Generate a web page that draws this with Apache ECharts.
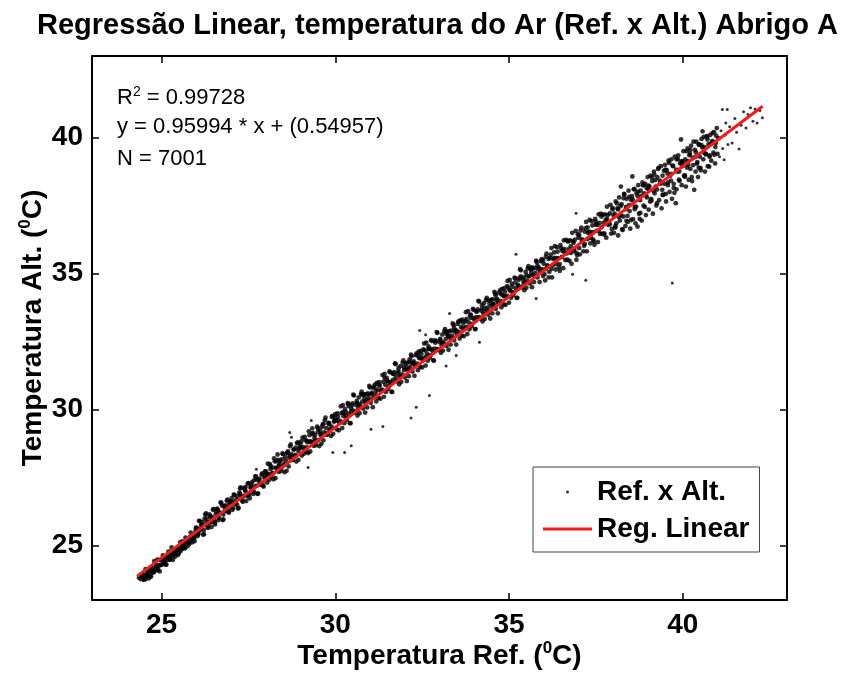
<!DOCTYPE html>
<html><head><meta charset="utf-8">
<script src="https://cdn.jsdelivr.net/npm/echarts@6/dist/echarts.min.js"></script>
<style>html,body{margin:0;padding:0;background:#fff}#c{width:844px;height:679px}</style>
</head><body><div id="c"></div>
<script>
const tituloGrafico = 'Regressão Linear, temperatura do Ar (Ref. x Alt.) Abrigo A';
const nomeSerieDados = 'Ref. x Alt.';
const nomeSerieReg = 'Reg. Linear';
const ticksX = [25, 30, 35, 40];
const ticksY = [25, 30, 35, 40];
const textoR2 = '0.99728';
const textoEq = 'y = 0.95994 * x + (0.54957)';
const textoN = 'N = 7001';

const pontos24a26 = [[24.35,23.82],[24.40,23.77],[24.42,23.94],[24.46,23.85],[24.48,23.75],[24.50,23.92],[24.55,23.77],[24.58,23.98],[24.60,24.11],[24.63,23.94],[24.67,23.88],[24.70,23.86],[24.72,24.18],[24.75,24.02],[24.78,24.04],[24.82,24.12],[24.85,24.20],[24.88,24.48],[24.90,24.15],[24.95,24.05],[25.00,24.30],[25.03,24.45],[25.07,24.38],[25.10,24.55],[25.12,24.30],[25.18,24.48],[25.20,24.78],[25.22,24.62],[25.25,24.50],[25.30,24.66],[25.33,24.48],[25.38,24.72],[25.40,24.60],[25.45,24.82],[25.48,24.66],[25.52,24.95],[25.55,24.80],[25.60,24.88],[25.60,25.15],[25.63,25.05],[25.68,24.90],[25.72,25.12],[25.75,24.98],[25.80,25.06],[25.83,25.25],[25.88,25.12],[25.92,25.30],[25.95,25.16],[25.98,25.40]];
const pontos24a26B = [[24.44,23.91],[24.49,23.74],[24.54,24.13],[24.59,23.94],[24.64,23.80],[24.69,24.20],[24.74,24.02],[24.79,24.43],[24.84,24.25],[24.89,24.09],[24.94,24.47],[24.99,24.29],[25.04,24.64],[25.09,24.46],[25.14,24.30],[25.19,24.65],[25.24,24.48],[25.29,24.93],[25.34,24.76],[25.39,24.70],[25.44,24.92],[25.49,24.72],[25.54,25.12],[25.59,24.97],[25.64,24.91],[25.69,25.29],[25.74,25.16],[25.79,25.11],[25.84,25.48],[25.89,25.35],[25.94,25.27],[25.99,25.65]];

const pontos26a28 = [[26.00,25.66],[26.04,25.35],[26.08,25.91],[26.12,25.57],[26.16,25.74],[26.20,25.40],[26.24,25.99],[26.28,26.18],[26.32,25.70],[26.36,25.87],[26.40,26.09],[26.44,25.68],[26.48,26.32],[26.52,25.93],[26.56,26.17],[26.60,26.36],[26.64,25.94],[26.68,26.21],[26.72,26.58],[26.76,25.94],[26.80,26.46],[26.84,26.29],[26.88,26.65],[26.92,26.24],[26.96,26.53],[27.00,26.62],[27.04,26.31],[27.08,26.87],[27.12,26.53],[27.16,26.70],[27.20,26.36],[27.24,26.95],[27.28,27.14],[27.32,26.66],[27.36,26.83],[27.40,27.05],[27.44,26.64],[27.48,27.28],[27.52,26.89],[27.56,27.13],[27.60,27.32],[27.64,26.90],[27.68,27.17],[27.72,27.54],[27.76,26.90],[27.80,27.42],[27.84,27.25],[27.88,27.61],[27.92,27.20],[27.96,27.49]];
const pontos26a28B = [[26.02,25.63],[26.06,25.42],[26.10,25.90],[26.14,25.62],[26.18,25.86],[26.22,25.42],[26.26,26.14],[26.30,25.85],[26.34,25.65],[26.38,26.15],[26.42,26.03],[26.46,25.87],[26.50,26.34],[26.54,25.78],[26.58,26.27],[26.62,26.12],[26.66,26.02],[26.70,26.58],[26.74,26.47],[26.78,25.96],[26.82,26.38],[26.86,26.28],[26.90,26.69],[26.94,26.21],[26.98,26.60],[27.02,26.59],[27.06,26.38],[27.10,26.86],[27.14,26.58],[27.18,26.82],[27.22,26.38],[27.26,27.10],[27.30,26.81],[27.34,26.61],[27.38,27.11],[27.42,26.99],[27.46,26.83],[27.50,27.30],[27.54,26.74],[27.58,27.23],[27.62,27.08],[27.66,26.98],[27.70,27.54],[27.74,27.43],[27.78,26.92],[27.82,27.34],[27.86,27.24],[27.90,27.65],[27.94,27.17],[27.98,27.56]];

const pontos28a30 = [[28.00,27.73],[28.04,27.32],[28.08,27.63],[28.12,27.99],[28.16,27.53],[28.20,27.87],[28.24,28.21],[28.28,27.48],[28.32,27.82],[28.36,28.15],[28.40,27.99],[28.44,27.75],[28.48,28.39],[28.52,27.95],[28.56,28.25],[28.60,27.75],[28.64,28.46],[28.68,28.23],[28.72,28.72],[28.76,28.14],[28.80,28.53],[28.84,28.30],[28.88,28.09],[28.92,28.79],[28.96,28.57],[29.00,28.74],[29.04,28.31],[29.08,28.62],[29.12,29.00],[29.16,28.46],[29.20,28.80],[29.24,29.20],[29.28,28.46],[29.32,28.80],[29.36,29.13],[29.40,28.97],[29.44,28.69],[29.48,29.37],[29.52,28.89],[29.56,29.23],[29.60,28.74],[29.64,29.45],[29.68,29.16],[29.72,29.70],[29.76,29.07],[29.80,29.51],[29.84,29.24],[29.88,29.03],[29.92,29.77],[29.96,29.56]];
const pontos28a30B = [[28.02,27.65],[28.06,28.01],[28.10,27.42],[28.14,27.91],[28.18,27.65],[28.22,27.44],[28.26,28.10],[28.30,27.87],[28.34,28.35],[28.38,27.71],[28.42,28.11],[28.46,27.87],[28.50,28.36],[28.54,27.70],[28.58,28.11],[28.62,28.40],[28.66,27.91],[28.70,28.65],[28.74,28.36],[28.78,28.16],[28.82,28.54],[28.86,28.33],[28.90,28.77],[28.94,28.15],[28.98,28.62],[29.02,28.61],[29.06,28.97],[29.10,28.38],[29.14,28.87],[29.18,28.61],[29.22,28.40],[29.26,29.06],[29.30,28.83],[29.34,29.31],[29.38,28.67],[29.42,29.07],[29.46,28.83],[29.50,29.32],[29.54,28.66],[29.58,29.07],[29.62,29.36],[29.66,28.87],[29.70,29.61],[29.74,29.32],[29.78,29.12],[29.82,29.50],[29.86,29.29],[29.90,29.73],[29.94,29.11],[29.98,29.58]];

const pontos30a33 = [[30.00,29.83],[30.04,29.27],[30.08,29.74],[30.12,29.51],[30.16,30.12],[30.20,29.32],[30.24,29.76],[30.28,30.02],[30.32,29.61],[30.36,30.24],[30.40,29.85],[30.44,29.50],[30.48,30.16],[30.52,30.55],[30.56,29.91],[30.60,30.17],[30.64,29.78],[30.68,30.45],[30.72,30.14],[30.76,30.66],[30.80,30.04],[30.84,30.43],[30.88,30.57],[30.92,30.08],[30.96,30.42],[31.00,30.81],[31.04,30.57],[31.08,30.09],[31.12,30.84],[31.16,30.54],[31.20,30.98],[31.24,30.42],[31.28,30.89],[31.32,30.67],[31.36,31.27],[31.40,30.47],[31.44,30.91],[31.48,31.17],[31.52,30.76],[31.56,31.40],[31.60,31.00],[31.64,30.65],[31.68,31.31],[31.72,31.70],[31.76,31.06],[31.80,31.33],[31.84,30.93],[31.88,31.60],[31.92,31.29],[31.96,31.81],[32.00,31.19],[32.04,31.59],[32.08,31.73],[32.12,31.23],[32.16,31.57],[32.20,31.96],[32.24,31.72],[32.28,31.24],[32.32,32.00],[32.36,31.69],[32.40,32.13],[32.44,31.57],[32.48,32.04],[32.52,31.82],[32.56,32.43],[32.60,31.62],[32.64,32.06],[32.68,32.32],[32.72,31.91],[32.76,32.55],[32.80,32.16],[32.84,31.80],[32.88,32.46],[32.92,32.85],[32.96,32.21]];
const pontos30a33B = [[30.02,29.59],[30.06,29.86],[30.10,29.24],[30.14,29.58],[30.18,29.87],[30.22,30.16],[30.26,29.50],[30.30,29.92],[30.34,29.69],[30.38,30.21],[30.42,29.50],[30.46,29.94],[30.50,30.23],[30.54,30.52],[30.58,29.89],[30.62,30.24],[30.66,30.06],[30.70,29.87],[30.74,30.58],[30.78,30.30],[30.82,30.56],[30.86,29.89],[30.90,30.33],[30.94,30.60],[30.98,30.87],[31.02,30.25],[31.06,30.62],[31.10,30.45],[31.14,30.92],[31.18,30.30],[31.22,30.74],[31.26,31.01],[31.30,30.40],[31.34,30.73],[31.38,31.02],[31.42,31.31],[31.46,30.65],[31.50,31.07],[31.54,30.85],[31.58,31.37],[31.62,30.65],[31.66,31.09],[31.70,31.38],[31.74,31.67],[31.78,31.04],[31.82,31.40],[31.86,31.21],[31.90,31.02],[31.94,31.73],[31.98,31.45],[32.02,31.71],[32.06,31.05],[32.10,31.48],[32.14,31.75],[32.18,32.02],[32.22,31.40],[32.26,31.77],[32.30,31.61],[32.34,32.07],[32.38,31.45],[32.42,31.89],[32.46,32.16],[32.50,31.55],[32.54,31.89],[32.58,32.18],[32.62,32.46],[32.66,31.80],[32.70,32.22],[32.74,32.00],[32.78,32.52],[32.82,31.81],[32.86,32.24],[32.90,32.53],[32.94,32.82],[32.98,32.19]];

const pontos33a36 = [[33.00,32.48],[33.04,32.09],[33.08,32.76],[33.12,32.44],[33.16,32.96],[33.20,32.34],[33.24,32.74],[33.28,32.88],[33.32,32.39],[33.36,32.72],[33.40,33.11],[33.44,32.87],[33.48,32.39],[33.52,33.15],[33.56,32.85],[33.60,33.28],[33.64,32.72],[33.68,33.19],[33.72,32.97],[33.76,33.58],[33.80,32.78],[33.84,33.21],[33.88,33.47],[33.92,33.06],[33.96,33.70],[34.00,33.31],[34.04,32.96],[34.08,33.61],[34.12,34.00],[34.16,33.36],[34.20,33.63],[34.24,33.24],[34.28,33.91],[34.32,33.60],[34.36,34.11],[34.40,33.49],[34.44,33.89],[34.48,34.03],[34.52,33.54],[34.56,33.88],[34.60,34.26],[34.64,34.02],[34.68,33.54],[34.72,34.30],[34.76,34.00],[34.80,34.44],[34.84,33.87],[34.88,34.34],[34.92,34.12],[34.96,34.73],[35.00,33.93],[35.04,34.37],[35.08,34.63],[35.12,34.21],[35.16,34.85],[35.20,34.46],[35.24,34.11],[35.28,34.77],[35.32,35.16],[35.36,34.51],[35.40,34.78],[35.44,34.39],[35.48,35.06],[35.52,34.75],[35.56,35.27],[35.60,34.64],[35.64,35.04],[35.68,35.18],[35.72,34.69],[35.76,35.03],[35.80,35.42],[35.84,35.17],[35.88,34.69],[35.92,35.45],[35.96,35.15]];
const pontos33a36B = [[33.02,32.55],[33.06,32.37],[33.10,32.17],[33.14,32.88],[33.18,32.60],[33.22,32.86],[33.26,32.20],[33.30,32.64],[33.34,32.90],[33.38,33.17],[33.42,32.55],[33.46,32.92],[33.50,32.76],[33.54,33.23],[33.58,32.61],[33.62,33.04],[33.66,33.31],[33.70,32.70],[33.74,33.04],[33.78,33.33],[33.82,33.62],[33.86,32.95],[33.90,33.37],[33.94,33.15],[33.98,33.67],[34.02,32.96],[34.06,33.40],[34.10,33.68],[34.14,33.97],[34.18,33.34],[34.22,33.70],[34.26,33.52],[34.30,33.33],[34.34,34.03],[34.38,33.75],[34.42,34.01],[34.46,33.35],[34.50,33.79],[34.54,34.06],[34.58,34.33],[34.62,33.70],[34.66,34.07],[34.70,33.91],[34.74,34.38],[34.78,33.76],[34.82,34.20],[34.86,34.46],[34.90,33.85],[34.94,34.19],[34.98,34.48],[35.02,34.77],[35.06,34.11],[35.10,34.52],[35.14,34.30],[35.18,34.82],[35.22,34.11],[35.26,34.55],[35.30,34.84],[35.34,35.12],[35.38,34.49],[35.42,34.85],[35.46,34.67],[35.50,34.48],[35.54,35.19],[35.58,34.91],[35.62,35.16],[35.66,34.50],[35.70,34.94],[35.74,35.21],[35.78,35.48],[35.82,34.86],[35.86,35.22],[35.90,35.06],[35.94,35.53],[35.98,34.91]];

const pontos36a38 = [[36.00,35.36],[36.04,34.75],[36.08,35.73],[36.12,35.27],[36.16,35.06],[36.20,35.70],[36.24,34.86],[36.28,35.53],[36.32,36.01],[36.36,35.35],[36.40,35.81],[36.44,35.23],[36.48,36.05],[36.52,35.61],[36.56,35.20],[36.60,35.90],[36.64,36.24],[36.68,35.51],[36.72,35.90],[36.76,36.22],[36.80,35.36],[36.84,36.19],[36.88,35.90],[36.92,36.57],[36.96,35.68],[37.00,36.32],[37.04,35.71],[37.08,36.69],[37.12,36.23],[37.16,36.02],[37.20,36.66],[37.24,35.82],[37.28,36.49],[37.32,36.97],[37.36,36.31],[37.40,36.77],[37.44,36.19],[37.48,37.01],[37.52,36.57],[37.56,36.16],[37.60,36.86],[37.64,37.20],[37.68,36.47],[37.72,36.86],[37.76,37.18],[37.80,36.32],[37.84,37.15],[37.88,36.86],[37.92,37.53],[37.96,36.64]];
const pontos36a38B = [[36.02,34.98],[36.06,35.62],[36.10,35.30],[36.14,34.86],[36.18,35.58],[36.22,35.94],[36.26,35.31],[36.30,35.58],[36.34,35.15],[36.38,35.97],[36.42,35.56],[36.46,35.10],[36.50,35.94],[36.54,35.83],[36.58,36.22],[36.62,35.50],[36.66,35.74],[36.70,36.20],[36.74,35.47],[36.78,36.01],[36.82,36.50],[36.86,35.83],[36.90,36.25],[36.94,35.51],[36.98,36.45],[37.02,35.94],[37.06,36.58],[37.10,36.26],[37.14,35.82],[37.18,36.54],[37.22,36.90],[37.26,36.27],[37.30,36.54],[37.34,36.11],[37.38,36.93],[37.42,36.52],[37.46,36.06],[37.50,36.90],[37.54,36.79],[37.58,37.18],[37.62,36.46],[37.66,36.70],[37.70,37.16],[37.74,36.43],[37.78,36.97],[37.82,37.46],[37.86,36.79],[37.90,37.21],[37.94,36.47],[37.98,37.41]];

const pontos38a41 = [[38.02,36.50],[38.04,37.20],[38.07,37.65],[38.09,36.85],[38.12,37.40],[38.14,36.40],[38.17,37.80],[38.19,36.95],[38.22,38.20],[38.24,37.55],[38.27,36.60],[38.29,37.10],[38.32,37.90],[38.35,36.75],[38.37,37.45],[38.39,37.75],[38.42,36.90],[38.44,38.05],[38.47,37.30],[38.49,36.65],[38.52,37.70],[38.55,38.57],[38.57,37.00],[38.59,38.10],[38.62,37.45],[38.64,36.85],[38.67,37.95],[38.70,36.73],[38.72,38.25],[38.74,37.20],[38.77,37.70],[38.79,38.05],[38.82,36.95],[38.84,38.35],[38.87,37.50],[38.89,37.95],[38.92,38.30],[38.94,37.15],[38.97,37.80],[38.99,38.55],[39.02,37.35],[39.04,38.20],[39.07,38.60],[39.09,37.75],[39.12,38.40],[39.14,37.20],[39.17,38.75],[39.19,37.95],[39.22,38.20],[39.24,37.50],[39.27,38.55],[39.29,38.85],[39.32,37.70],[39.35,38.30],[39.37,38.95],[39.39,37.40],[39.42,38.60],[39.44,37.90],[39.47,38.30],[39.49,39.00],[39.52,37.65],[39.54,38.80],[39.57,38.25],[39.59,39.15],[39.62,38.00],[39.64,38.60],[39.67,39.20],[39.69,37.75],[39.72,38.95],[39.74,38.30],[39.77,39.30],[39.80,37.59],[39.82,38.10],[39.84,38.75],[39.87,39.35],[39.89,38.45],[39.92,39.05],[39.95,39.93],[39.97,38.25],[39.99,38.95],[40.02,39.50],[40.04,38.60],[40.07,39.20],[40.09,38.20],[40.12,38.90],[40.14,39.60],[40.17,38.45],[40.19,39.35],[40.22,38.85],[40.24,39.70],[40.27,38.40],[40.29,39.25],[40.33,38.08],[40.35,39.55],[40.37,38.75],[40.39,39.85],[40.42,39.10],[40.44,38.55],[40.47,39.75],[40.49,39.30],[40.52,38.80],[40.54,39.95],[40.57,40.23],[40.59,39.20],[40.62,39.65],[40.64,38.75],[40.67,39.40],[40.69,40.05],[40.72,38.95],[40.74,39.75],[40.77,39.30],[40.79,40.10],[40.82,39.15],[40.85,39.85],[40.88,39.45],[40.90,40.20],[40.93,39.05],[40.95,39.80],[40.98,40.35],[41.00,39.40]];
const pontos38a41B = [[38.01,37.14],[38.06,36.69],[38.11,37.58],[38.16,37.08],[38.21,37.48],[38.26,36.63],[38.31,37.93],[38.36,37.37],[38.41,37.12],[38.46,37.82],[38.51,36.97],[38.56,37.72],[38.61,38.11],[38.66,37.46],[38.71,38.01],[38.76,37.01],[38.81,37.86],[38.86,38.25],[38.91,37.45],[38.96,38.15],[39.01,38.10],[39.06,37.65],[39.11,38.54],[39.16,38.04],[39.21,38.44],[39.26,37.59],[39.31,38.89],[39.36,38.33],[39.41,38.08],[39.46,38.78],[39.51,37.93],[39.56,38.68],[39.61,39.07],[39.66,38.42],[39.71,38.97],[39.76,37.97],[39.81,38.82],[39.86,39.21],[39.91,38.41],[39.96,39.11],[40.01,39.06],[40.06,38.61],[40.11,39.50],[40.16,39.00],[40.21,39.40],[40.26,38.55],[40.31,39.85],[40.36,39.29],[40.41,39.04],[40.46,39.74],[40.51,38.89],[40.56,39.64],[40.61,40.03],[40.66,39.38],[40.71,39.93],[40.76,38.93],[40.81,39.78],[40.86,40.17],[40.91,39.37],[40.96,40.07]];

const pontosNucleo = [[24.46,23.88],[24.54,23.86],[24.62,24.10],[24.70,24.06],[24.78,24.02],[24.86,24.29],[24.94,24.27],[25.02,24.52],[25.10,24.36],[25.18,24.57],[25.26,24.78],[25.34,24.63],[25.42,24.85],[25.50,24.83],[25.58,25.06],[25.66,24.96],[25.74,25.14],[25.82,25.32],[25.90,25.23],[25.98,25.54],[26.06,25.47],[26.14,25.76],[26.22,25.57],[26.30,26.00],[26.38,25.82],[26.46,26.05],[26.54,25.85],[26.62,26.32],[26.70,26.20],[26.78,26.14],[26.86,26.48],[26.94,26.36],[27.02,26.74],[27.10,26.61],[27.18,26.49],[27.26,26.90],[27.34,26.80],[27.42,27.15],[27.50,26.85],[27.58,27.15],[27.66,27.40],[27.74,27.20],[27.82,27.46],[27.90,27.28],[27.98,27.73],[28.06,27.59],[28.14,27.81],[28.22,27.66],[28.30,28.10],[28.38,27.94],[28.46,28.17],[28.54,28.00],[28.62,28.42],[28.70,28.30],[28.78,28.26],[28.86,28.60],[28.94,28.48],[29.02,28.83],[29.10,28.53],[29.18,28.86],[29.26,28.82],[29.34,29.12],[29.42,28.87],[29.50,29.19],[29.58,29.10],[29.66,29.47],[29.74,29.12],[29.82,29.46],[29.90,29.37],[29.98,29.71],[30.06,29.61],[30.14,29.53],[30.22,29.91],[30.30,29.79],[30.38,30.13],[30.46,30.04],[30.54,29.95],[30.62,30.32],[30.70,30.20],[30.78,30.55],[30.86,30.27],[30.94,30.55],[31.02,30.35],[31.10,30.80],[31.18,30.68],[31.26,30.91],[31.34,30.72],[31.42,31.16],[31.50,31.04],[31.58,30.99],[31.66,31.32],[31.74,31.20],[31.82,31.52],[31.90,31.22],[31.98,31.55],[32.06,31.48],[32.14,31.85],[32.22,31.70],[32.30,31.64],[32.38,31.98],[32.46,31.89],[32.54,32.21],[32.62,31.96],[32.70,32.24],[32.78,32.22],[32.86,32.54],[32.94,32.22],[33.02,32.60],[33.10,32.47],[33.18,32.80],[33.26,32.70],[33.34,32.64],[33.42,33.01],[33.50,32.89],[33.58,33.24],[33.66,32.98],[33.74,33.24],[33.82,33.04],[33.90,33.49],[33.98,33.37],[34.06,33.60],[34.14,33.40],[34.22,33.85],[34.30,33.73],[34.38,33.67],[34.46,34.01],[34.54,33.89],[34.62,34.20],[34.70,33.91],[34.78,34.24],[34.86,34.16],[34.94,34.54],[35.02,34.39],[35.10,34.32],[35.18,34.67],[35.26,34.58],[35.34,34.90],[35.42,34.65],[35.50,34.93],[35.58,34.91],[35.66,35.23],[35.74,34.91],[35.82,35.29],[35.90,35.16],[35.98,35.49],[36.06,35.17],[36.14,35.54],[36.22,35.17],[36.30,35.78],[36.38,35.57],[36.46,35.35],[36.54,35.88],[36.62,35.75],[36.70,36.18],[36.78,35.76],[36.86,36.13],[36.94,35.76],[37.02,36.41],[37.10,36.18],[37.18,36.09],[37.26,36.70],[37.34,36.52],[37.42,36.25],[37.50,36.80],[37.58,36.58],[37.66,37.10],[37.74,36.48],[37.82,37.01],[37.90,36.81],[37.98,37.36],[38.06,36.74],[38.14,37.36],[38.22,37.14],[38.30,37.77],[38.38,36.94],[38.46,37.52],[38.54,37.85],[38.62,37.37],[38.70,37.85],[38.78,37.23],[38.86,38.25],[38.94,37.88],[39.02,38.23],[39.10,37.68],[39.18,38.64],[39.26,38.09],[39.34,38.42],[39.42,37.89],[39.50,38.82],[39.58,38.35],[39.66,38.67],[39.74,38.15],[39.82,39.20],[39.90,38.75],[39.98,39.13],[40.06,38.56],[40.14,39.13],[40.22,39.54],[40.30,38.99],[40.38,39.46],[40.46,38.89],[40.54,39.72],[40.62,39.44],[40.70,40.02],[40.78,39.35],[40.86,39.87],[40.94,39.65],[41.02,39.98]];

const pontos41a43 = [[41.03,39.95],[41.06,39.30],[41.10,40.25],[41.14,41.03],[41.15,39.60],[41.19,39.19],[41.22,40.10],[41.24,40.54],[41.28,41.03],[41.30,39.75],[41.35,40.40],[41.42,39.80],[41.50,40.70],[41.55,40.20],[41.62,39.58],[41.68,40.45],[41.75,40.95],[41.82,40.35],[41.88,40.85],[41.95,41.10],[42.02,40.60],[42.08,41.05],[42.14,40.54],[42.22,41.00],[42.29,40.73]];

const pontosDispersos = [[27.73,27.81],[28.69,29.16],[28.74,28.98],[29.22,27.87],[29.31,29.60],[29.93,28.42],[30.27,28.42],[30.46,28.67],[31.03,29.28],[31.37,29.38],[32.18,29.69],[32.33,30.09],[32.43,32.91],[32.60,32.75],[32.71,30.52],[33.19,31.60],[33.29,33.53],[33.48,31.99],[34.15,32.48],[35.20,35.71],[35.78,34.08],[36.83,34.98],[36.93,37.22],[37.21,34.76],[39.70,34.65]];

const regX = [24.3, 42.3];
const regY = [23.876, 41.155];

const F = "'Liberation Sans', Arial, Helvetica, sans-serif";
const banda = [].concat(pontos24a26, pontos24a26B, pontos26a28, pontos26a28B, pontos28a30, pontos28a30B,
  pontos30a33, pontos30a33B, pontos33a36, pontos33a36B, pontos36a38, pontos36a38B,
  pontos38a41, pontos38a41B, pontosNucleo);
const esparsos = [].concat(pontos41a43, pontosDispersos);
const linhaReg = regX.map((x, i) => [x, regY[i]]);

const richNome = {
  b: {fontSize: 28, fontWeight: 'bold', color: '#000', fontFamily: F, lineHeight: 32},
  s: {fontSize: 17, fontWeight: 'bold', color: '#000', fontFamily: F, lineHeight: 17, verticalAlign: 'top'}
};
function eixoBase(extra) {
  return Object.assign({
    type: 'value', min: 23, max: 43,
    axisLine: {show: true, onZero: false, lineStyle: {color: '#000', width: 2}},
    axisTick: {show: true, inside: true, length: 7, customValues: ticksX, lineStyle: {color: '#000', width: 1.5}},
    splitLine: {show: false},
    nameMoveOverlap: false
  }, extra);
}
const chart = echarts.init(document.getElementById('c'));
const richAnot = {
  n: {fontSize: 22, fill: '#000', fontFamily: F, lineHeight: 26},
  s: {fontSize: 14, fill: '#000', fontFamily: F, lineHeight: 14, verticalAlign: 'top'}
};
chart.setOption({
  animation: false,
  backgroundColor: '#fff',
  title: {text: tituloGrafico, left: 32, top: 6,
    textStyle: {fontSize: 29, fontWeight: 'bold', color: '#000', fontFamily: F}},
  grid: {left: 92, right: 57, top: 56, bottom: 79},
  xAxis: [
    eixoBase({position: 'bottom',
      axisLabel: {customValues: ticksX, fontSize: 28, fontWeight: 'bold', color: '#000', fontFamily: F, margin: 11},
      name: '{b|Temperatura Ref. (}{s|0}{b|C)}', nameLocation: 'middle', nameGap: 40,
      nameTextStyle: {rich: richNome}}),
    eixoBase({position: 'top', axisLabel: {show: false}})
  ],
  yAxis: [
    eixoBase({position: 'left',
      axisTick: {show: true, inside: true, length: 7, customValues: ticksY, lineStyle: {color: '#000', width: 1.5}},
      axisLabel: {customValues: ticksY, fontSize: 28, fontWeight: 'bold', color: '#000', fontFamily: F, margin: 9},
      name: '{b|Temperatura Alt. (}{s|0}{b|C)}', nameLocation: 'middle', nameGap: 43, nameRotate: 90,
      nameTextStyle: {rich: richNome}}),
    eixoBase({position: 'right',
      axisTick: {show: true, inside: true, length: 7, customValues: ticksY, lineStyle: {color: '#000', width: 1.5}},
      axisLabel: {show: false}})
  ],
  legend: {
    orient: 'vertical', left: 533, top: 467, padding: [10, 10, 8, 10],
    itemWidth: 49, itemHeight: 3, itemGap: 7,
    borderColor: '#444', borderWidth: 1, backgroundColor: '#fff',
    textStyle: {fontSize: 28, fontWeight: 'bold', color: '#000', fontFamily: F, lineHeight: 30},
    data: [{name: nomeSerieDados, icon: 'circle'}, {name: nomeSerieReg, icon: 'rect'}]
  },
  graphic: [
    {type: 'text', x: 117, y: 98, style: {text: '{n|R}{s|2}{n| = ' + textoR2 + '}', rich: richAnot, verticalAlign: 'middle', align: 'left'}},
    {type: 'text', x: 117, y: 127, style: {text: '{n|' + textoEq + '}', rich: richAnot, verticalAlign: 'middle', align: 'left'}},
    {type: 'text', x: 117, y: 159, style: {text: '{n|' + textoN + '}', rich: richAnot, verticalAlign: 'middle', align: 'left'}}
  ],
  series: [
    {name: nomeSerieDados, type: 'scatter', xAxisIndex: 0, yAxisIndex: 0, data: banda,
      symbol: 'circle', symbolSize: 4.8, itemStyle: {color: '#000'}, z: 2},
    {name: nomeSerieDados, type: 'scatter', xAxisIndex: 0, yAxisIndex: 0, data: esparsos,
      symbol: 'circle', symbolSize: 3, itemStyle: {color: '#000'}, z: 2},
    {name: nomeSerieReg, type: 'line', xAxisIndex: 0, yAxisIndex: 0, data: linhaReg,
      symbol: 'none', lineStyle: {color: '#f21a1a', width: 3}, itemStyle: {color: '#f21a1a'}, z: 3}
  ]
});
</script></body></html>
